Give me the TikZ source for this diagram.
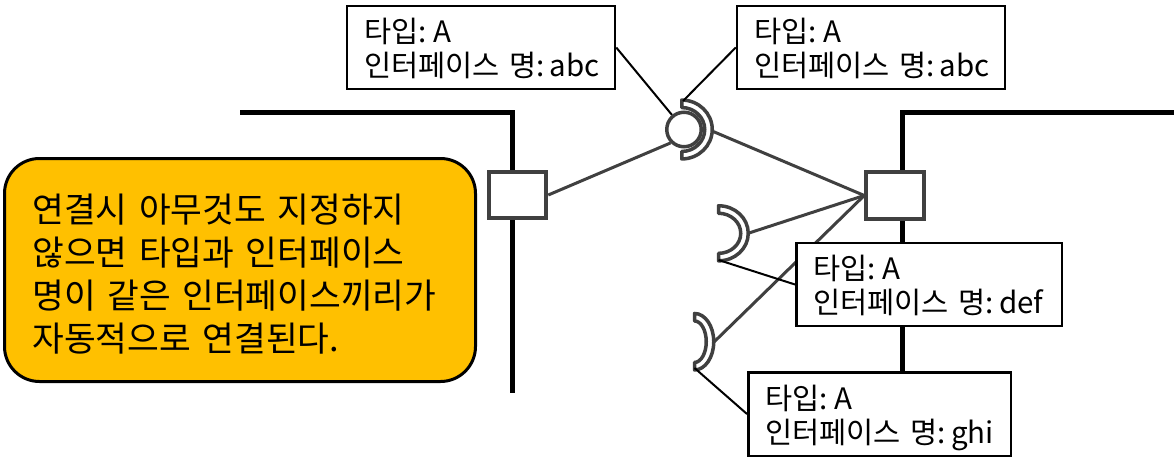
\documentclass[tikz,border=0pt]{standalone}
\usepackage{fontspec}
\setmainfont{Noto Sans CJK KR}
\usetikzlibrary{calc}
\definecolor{linkgray}{HTML}{404040}
\definecolor{notefill}{HTML}{FFC000}
% text block lowered by #1 without changing its reported size
\newcommand\lowered[2]{\raisebox{-#1}[\height][\depth]{\begin{tabular}{@{}l@{}}#2\end{tabular}}}
\begin{document}
\begin{tikzpicture}[x=1pt,y=-1pt,
  wall/.style={draw=black,line width=5pt},
  portbox/.style={draw=linkgray,line width=4pt,fill=white,rectangle,inner sep=0pt,minimum width=57.5pt,minimum height=46.5pt},
  link/.style={draw=linkgray,line width=3pt},
  ballnode/.style={draw=linkgray,line width=3.5pt,fill=white,circle,inner sep=0pt,minimum size=34.5pt},
  socketring/.style={draw=linkgray,line width=3.5pt,fill=white,line join=round},
  leader/.style={draw=black,line width=2pt},
  tagbox/.style={draw=black,line width=2.5pt,fill=white,rectangle,align=left,inner xsep=17pt,inner ysep=0pt,minimum height=83pt,font=\fontsize{29.5}{33}\selectfont},
  notebox/.style={draw=black,line width=3pt,fill=notefill,rounded corners=35pt,align=left,inner xsep=28pt,minimum width=471pt,minimum height=223pt,text width=415pt,font=\fontsize{34.5}{43}\selectfont}
]
\useasboundingbox (0,0) rectangle (1174,460);

% walls of the two parts
\draw[wall] (240,112) -- (512.5,112) -- (512.5,393);
\draw[wall] (1174,112) -- (902,112) -- (902,371);

% centres and end points of the sockets
\coordinate (sA) at (681.75,129.5);
\coordinate (sA-tip) at (712,131);
\coordinate (sA-top) at (683,101);
\coordinate (sD) at (718.5,233.3);
\coordinate (sD-tip) at (749,233);
\coordinate (sD-bot) at (718.5,260);
\coordinate (sG) at (694.5,341.7);
\coordinate (sG-tip) at (714,342);
\coordinate (sG-bot) at (694.5,368);

% ports
\node[portbox] (portL) at (517.5,195) {};
\node[portbox] (portR) at (895,195.5) {};
\node[ballnode] (ball) at (684,129.5) {};

% connections
\draw[link] (portL.east) -- (ball.225);
\draw[link] (sA-tip) -- (portR.west);
\draw[link] (sD-tip) -- (portR.west);
\draw[link] (sG-tip) -- (portR.west);
\node[portbox] at (portL) {};
\node[portbox] at (portR) {};

% sockets
\draw[socketring] ($(sA)+(0,-29.45)$) arc[start angle=-90, end angle=90, x radius=30.5, y radius=29.45]
  -- ($(sA)+(0,21.95)$) arc[start angle=90, end angle=-90, x radius=23, y radius=21.95] -- cycle;
\draw[socketring] ($(sD)+(0,-27.55)$) arc[start angle=-90, end angle=90, x radius=29.75, y radius=27.55]
  -- ($(sD)+(0,20.05)$) arc[start angle=90, end angle=-90, x radius=22.25, y radius=20.05] -- cycle;
\draw[socketring] ($(sG)+(0,-28.25)$) arc[start angle=-90, end angle=90, x radius=19.25, y radius=28.25]
  -- ($(sG)+(0,20.75)$) arc[start angle=90, end angle=-90, x radius=11.75, y radius=20.75] -- cycle;

% labels
\node[tagbox,text width=234pt] (tagA1) at (481,47.5) {\lowered{5pt}{타입:\kern7pt A\\인터페이스 명:\kern5pt abc}};
\node[tagbox,text width=234pt] (tagA2) at (871,47.5) {\lowered{5pt}{타입:\kern7pt A\\인터페이스 명:\kern5pt abc}};
\node[tagbox,text width=231.5pt] (tagD) at (929,284.5) {\lowered{5pt}{타입:\kern7pt A\\인터페이스 명:\kern5pt def}};
\node[tagbox,text width=228.5pt,minimum height=83.5pt] (tagG) at (879.5,414) {\lowered{5pt}{타입:\kern7pt A\\인터페이스 명:\kern5pt ghi}};

\draw[leader] (tagA1.east) -- (ball);
\draw[leader] (tagA2.west) -- (sA-top);
\draw[leader] (tagD.west) -- (sD-bot);
\draw[leader] (tagG.west) -- (sG-bot);

% explanatory note
\node[notebox] (note) at (240,270) {\lowered{8pt}{연결시 아무것도 지정하지\\않으면 타입과 인터페이스\\명이 같은 인터페이스끼리가\\자동적으로 연결된다.}};
\end{tikzpicture}
\end{document}
